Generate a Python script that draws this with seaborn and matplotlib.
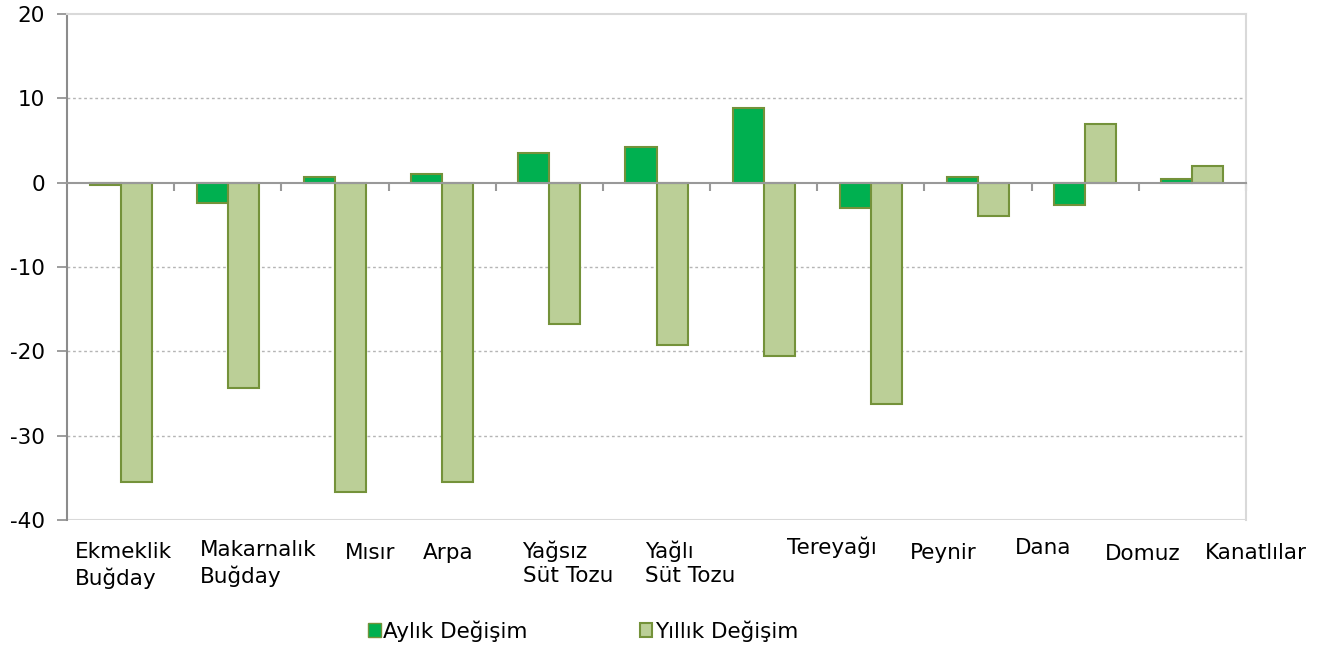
import matplotlib
matplotlib.use("Agg")
import matplotlib.pyplot as plt
import matplotlib.patches as mpatches
import matplotlib.transforms as mtransforms
import seaborn as sns
import pandas as pd

categories = ["Ekmeklik\nBuğday", "Makarnalık\nBuğday", "Mısır", "Arpa",
              "Yağsız\nSüt Tozu", "Yağlı\nSüt Tozu", "Tereyağı", "Peynir",
              "Dana", "Domuz", "Kanatlılar"]
aylik = [-0.3, -2.4, 0.7, 1.0, 3.5, 4.2, 8.9, -3.0, 0.7, -2.7, 0.4]
yillik = [-35.5, -24.4, -36.7, -35.5, -16.8, -19.2, -20.6, -26.3, -3.9, 7.0, 2.0]
series_names = ["Aylık Değişim", "Yıllık Değişim"]
y_ticks = [-40, -30, -20, -10, 0, 10, 20]

# layout of the (manually placed) category labels: left edge in category units, top in px below axes
label_x = [-0.425, 0.74, 2.09, 2.82, 3.75, 4.89, 6.22, 7.36, 8.34, 9.18, 10.12]
label_dy = [22, 20, 23, 23, 20, 20, 17, 23, 18, 24, 23]

df = pd.DataFrame({
    "cat": categories * 2,
    "val": aylik + yillik,
    "series": [series_names[0]] * len(categories) + [series_names[1]] * len(categories),
})

sns.set_theme(style="white")
plt.rcParams['font.family'] = ['DejaVu Sans']

c_fill = ["#00B050", "#BBCF97"]
c_edge = "#74923A"

fig = plt.figure(figsize=(13.24, 6.48), dpi=100)
ax = fig.add_axes([67 / 1324, 1 - 520 / 648, (1246 - 67) / 1324, (520 - 14) / 648])

sns.barplot(data=df, x="cat", y="val", hue="series", order=categories,
            hue_order=series_names, palette=c_fill, saturation=1, width=0.58, gap=0,
            edgecolor=c_edge, linewidth=1.5, ax=ax, legend=False, zorder=3)

ax.set_xlim(-0.5, len(categories) - 0.5)
ax.set_ylim(-40, 20)
ax.set_xlabel("")
ax.set_ylabel("")

# y axis
ax.set_yticks(y_ticks)
ax.set_yticklabels([str(t) for t in y_ticks], fontsize=15.5, color="black")
ax.tick_params(axis="y", direction="out", length=7, width=1.2, color="#8c8c8c", pad=9, left=True)

# gridlines
for t in y_ticks:
    if t not in (0, 20, -40):
        ax.axhline(t, color="#b5b5b5", linewidth=1, linestyle=(0, (2, 2)), zorder=1)
ax.axhline(-40, color="#d9d9d9", linewidth=1.5, zorder=1)

# spines
ax.spines["left"].set_color("#8c8c8c")
ax.spines["left"].set_linewidth(1.5)
ax.spines["top"].set_color("#d9d9d9")
ax.spines["top"].set_linewidth(1.5)
ax.spines["right"].set_color("#d9d9d9")
ax.spines["right"].set_linewidth(1.5)
ax.spines["bottom"].set_position(("data", 0))
ax.spines["bottom"].set_color("#999999")
ax.spines["bottom"].set_linewidth(1.5)
ax.spines["bottom"].set_zorder(4)

ax.set_xticks([i + 0.5 for i in range(len(categories))])
ax.set_xticklabels([])
ax.tick_params(axis="x", direction="out", length=6, width=1.5, color="#999999", bottom=True)

# category labels
trans = ax.get_xaxis_transform()
for lab, lx, dy in zip(categories, label_x, label_dy):
    off = mtransforms.offset_copy(trans, fig=fig, x=0, y=-dy, units="dots")
    ax.text(lx, 0, lab, transform=off, ha="left", va="top", fontsize=15.5,
            color="black", linespacing=1.3)

# legend
handles = [mpatches.Patch(facecolor=c_fill[0], edgecolor=c_edge, linewidth=1),
           mpatches.Patch(facecolor=c_fill[1], edgecolor=c_edge, linewidth=1.5)]
fig.legend(handles, series_names, loc="center", bbox_to_anchor=(583 / 1324, 1 - 631 / 648),
           ncol=2, frameon=False, fontsize=15.5, handlelength=0.6, handleheight=0.6,
           handletextpad=0.1, columnspacing=5.2, borderpad=0, labelcolor="black")

fig.savefig("out.png", dpi=100)
